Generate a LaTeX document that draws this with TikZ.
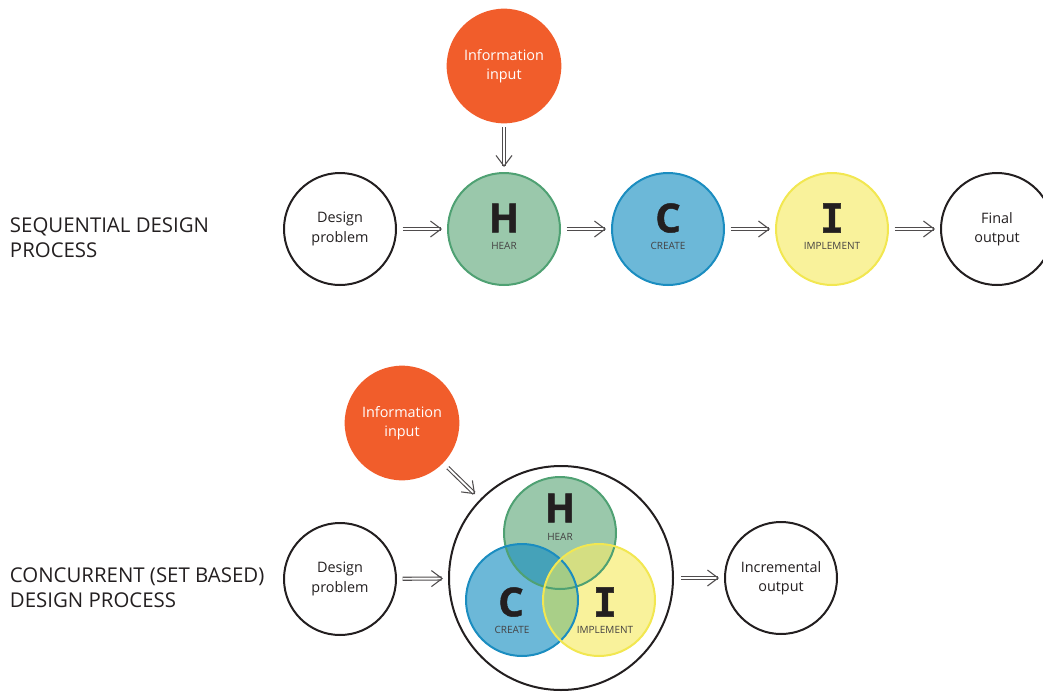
\documentclass[tikz,border=0pt]{standalone}
\usepackage{fontspec}
\setmainfont{Open Sans}
\newfontfamily\heavyfont[BoldFeatures={FakeBold=1.2}]{Open Sans}
\newfontfamily\slabfont[BoldFeatures={FakeBold=1.2}]{DejaVu Sans Mono}
\usetikzlibrary{arrows.meta}

\definecolor{ink}{HTML}{231F20}
\definecolor{orng}{HTML}{F15D2B}
\definecolor{hfill}{HTML}{9AC8AB}
\definecolor{hline}{HTML}{4FA173}
\definecolor{cfill}{HTML}{6CB8D8}
\definecolor{cline}{HTML}{1B8DC0}
\definecolor{ifill}{HTML}{F9F29B}
\definecolor{iline}{HTML}{F2E751}
\definecolor{hcfill}{HTML}{45A2B9}
\definecolor{hifill}{HTML}{D4DE82}
\definecolor{cifill}{HTML}{A9CF88}
\definecolor{hcifill}{HTML}{A4CC86}

\begin{document}
\begin{tikzpicture}[x=0.75pt,y=-0.75pt,
  every node/.style={inner sep=0pt, outer sep=0pt},
  ring/.style={circle, draw=ink, line width=1.5pt, minimum size=84pt, fill=white,
    align=center, text=ink, font=\fontsize{10.8}{14.6}\selectfont},
  info/.style={circle, fill=orng, minimum size=86pt, text=white, align=center,
    font=\fontsize{10.8}{14.6}\selectfont},
  hear/.style={circle, draw=hline, fill=hfill, line width=1.5pt, minimum size=84pt},
  create/.style={circle, draw=cline, fill=cfill, line width=1.5pt, minimum size=84pt},
  impl/.style={circle, draw=iline, fill=ifill, line width=1.5pt, minimum size=84pt},
  letter/.style={text=ink, font=\fontsize{30}{30}\heavyfont\bfseries},
  slab/.style={text=ink, font=\fontsize{30}{30}\slabfont\bfseries},
  tag/.style={text=ink!85, font=\fontsize{7.5}{9}\selectfont},
  side/.style={anchor=west, align=left, text=ink, font=\fontsize{15.3}{18.75}\selectfont},
  flow/.style={draw=ink!80, double=white, double distance=1.4pt, line width=0.85pt,
    -{Straight Barb[length=8pt, width=12pt, line width=0.8pt]},
    shorten <=5pt, shorten >=4.5pt}
]
\useasboundingbox (0,0) rectangle (1043,693);

% ---------- sequential process ----------
\node[side] (seqlabel) at (10,238) {SEQUENTIAL DESIGN\\PROCESS};

\node[info] (info1) at (504,66) {Information\\input};
\node[ring] (dp1) at (340,229) {Design\\problem};
\node[hear] (h1) at (504,229) {};
\node[create] (c1) at (668,229) {};
\node[impl] (i1) at (832,229) {};
\node[ring] (fo) at (997,229) {Final\\output};

\node[letter] (h1l) at (504,218) {H};
\node[tag] (h1t) at (504,246) {HEAR};
\node[letter] (c1l) at (668,218) {C};
\node[tag] (c1t) at (668,246) {CREATE};
\node[slab] (i1l) at (832,218) {I};
\node[tag] (i1t) at (832,246) {IMPLEMENT};

\draw[flow, shorten <=3pt] (info1) -- (h1);
\draw[flow] (dp1) -- (h1);
\draw[flow] (h1) -- (c1);
\draw[flow] (c1) -- (i1);
\draw[flow] (i1) -- (fo);

% ---------- concurrent process ----------
\node[side] (conlabel) at (10,588) {CONCURRENT (SET BASED)\\DESIGN PROCESS};

\node[info] (info2) at (402,423) {Information\\input};
\node[ring] (dp2) at (340,579) {Design\\problem};
\node[ring, minimum size=168pt] (big) at (561,578) {};
\node[ring] (inc) at (781,578) {Incremental\\output};

% overlapping stages
\coordinate (hc) at (560,533);
\coordinate (cc) at (522,600);
\coordinate (ic) at (599,600);
\fill[hfill] (hc) circle (56);
\fill[cfill] (cc) circle (56);
\fill[ifill] (ic) circle (56);
\begin{scope}
  \clip (hc) circle (56);
  \fill[hcfill] (cc) circle (56);
  \fill[hifill] (ic) circle (56);
\end{scope}
\begin{scope}
  \clip (cc) circle (56);
  \fill[cifill] (ic) circle (56);
  \clip (ic) circle (56);
  \fill[hcifill] (hc) circle (56);
\end{scope}
\node[circle, draw=hline, line width=1.5pt, minimum size=84pt] (h2) at (hc) {};
\node[circle, draw=cline, line width=1.5pt, minimum size=84pt] (c2) at (cc) {};
\node[circle, draw=iline, line width=1.5pt, minimum size=84pt] (i2) at (ic) {};

\node[letter] (h2l) at (560,508) {H};
\node[tag] (h2t) at (560,537) {HEAR};
\node[letter] (c2l) at (511,602) {C};
\node[tag] (c2t) at (512,630) {CREATE};
\node[slab] (i2l) at (605,602) {I};
\node[tag] (i2t) at (605,630) {IMPLEMENT};

\draw[flow, shorten >=6pt] (info2) -- (big);
\draw[flow] (dp2) -- (big);
\draw[flow, shorten <=6pt] (big) -- (inc);
\end{tikzpicture}
\end{document}
